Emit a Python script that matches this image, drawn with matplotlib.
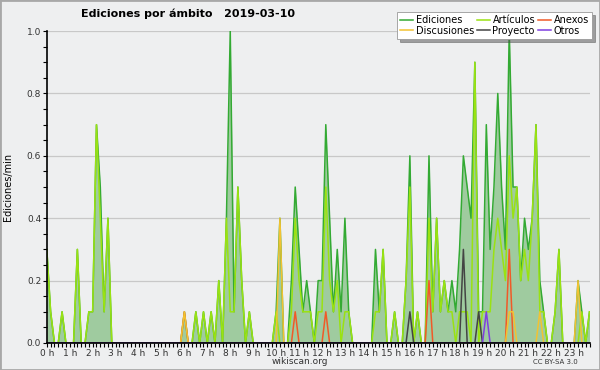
import numpy as np
import matplotlib
matplotlib.use('Agg')
import matplotlib.pyplot as plt
from matplotlib.patches import Rectangle

# edits per minute, one value every 10 minutes (0h00 .. 23h40)
ediciones = [
    0.3, 0.1, 0, 0, 0.1, 0,        # 0 h
    0, 0, 0.3, 0, 0, 0.1,          # 1 h
    0.1, 0.7, 0.5, 0.1, 0.4, 0,    # 2 h
    0, 0, 0, 0, 0, 0,              # 3 h
    0, 0, 0, 0, 0, 0,              # 4 h
    0, 0, 0, 0, 0, 0,              # 5 h
    0.1, 0, 0, 0.1, 0, 0.1,        # 6 h
    0, 0.1, 0, 0.2, 0, 0.4,        # 7 h
    1.0, 0.1, 0.5, 0.2, 0, 0.1,    # 8 h
    0, 0, 0, 0, 0, 0,              # 9 h
    0.1, 0.4, 0, 0, 0.2, 0.5,      # 10 h
    0.3, 0.1, 0.2, 0.1, 0, 0.2,    # 11 h
    0.2, 0.7, 0.4, 0.1, 0.3, 0.1,  # 12 h
    0.4, 0.1, 0, 0, 0, 0,          # 13 h
    0, 0, 0.3, 0.1, 0.3, 0,        # 14 h
    0, 0.1, 0, 0, 0.2, 0.6,        # 15 h
    0, 0.1, 0, 0, 0.6, 0.1,        # 16 h
    0.4, 0.1, 0.2, 0.1, 0.2, 0.1,  # 17 h
    0.3, 0.6, 0.5, 0.4, 0.9, 0.1,  # 18 h
    0.1, 0.7, 0.3, 0.5, 0.8, 0.5,  # 19 h
    0.3, 1.0, 0.5, 0.5, 0.2, 0.4,  # 20 h
    0.3, 0.4, 0.7, 0.2, 0.1, 0,    # 21 h
    0, 0.1, 0.3, 0, 0, 0,          # 22 h
    0, 0.2, 0.1, 0, 0.1,           # 23 h
]

articulos = [
    0.3, 0.1, 0, 0, 0.1, 0,
    0, 0, 0.3, 0, 0, 0.1,
    0.1, 0.7, 0.4, 0.1, 0.4, 0,
    0, 0, 0, 0, 0, 0,
    0, 0, 0, 0, 0, 0,
    0, 0, 0, 0, 0, 0,
    0, 0, 0, 0.1, 0, 0.1,
    0, 0.1, 0, 0.2, 0, 0.4,
    0.1, 0.1, 0.5, 0.2, 0, 0.1,
    0, 0, 0, 0, 0, 0,
    0.1, 0, 0, 0, 0.1, 0.4,
    0.2, 0.1, 0.1, 0.1, 0, 0.1,
    0.1, 0.5, 0.2, 0.1, 0.2, 0,
    0.1, 0.1, 0, 0, 0, 0,
    0, 0, 0.1, 0.1, 0.3, 0,
    0, 0.1, 0, 0, 0.2, 0.5,
    0, 0.1, 0, 0, 0.4, 0.1,
    0.4, 0.1, 0.2, 0.1, 0.1, 0,
    0.1, 0.1, 0.1, 0, 0.9, 0,
    0.1, 0.1, 0.1, 0.3, 0.4, 0.3,
    0.2, 0.6, 0.4, 0.5, 0.2, 0.3,
    0.2, 0.4, 0.7, 0.1, 0.1, 0,
    0, 0.1, 0.3, 0, 0, 0,
    0, 0, 0.1, 0, 0.1,
]

# sparse series: slot index -> value
anexos_idx = [36, 65, 73, 100, 121]
anexos_val = [0.1, 0.1, 0.1, 0.2, 0.3]
discusiones_idx = [36, 61, 121, 122, 129, 139]
discusiones_val = [0.1, 0.4, 0.1, 0.1, 0.1, 0.2]
proyecto_idx = [95, 109, 113]
proyecto_val = [0.1, 0.3, 0.1]
otros_idx = [115]
otros_val = [0.1]

hour_labels = ['%d h' % h for h in range(24)]

n = len(ediciones)
x = np.arange(n)


def expand(idx, val):
    s = np.zeros(n)
    s[idx] = val
    return s


series = [
    ('Ediciones', np.array(ediciones), '#33aa33'),
    ('Artículos', np.array(articulos), '#9ae212'),
    ('Anexos', expand(anexos_idx, anexos_val), '#f05a28'),
    ('Discusiones', expand(discusiones_idx, discusiones_val), '#f2c232'),
    ('Proyecto', expand(proyecto_idx, proyecto_val), '#444444'),
    ('Otros', expand(otros_idx, otros_val), '#7f3fe0'),
]

bg = '#eeeff0'
fig = plt.figure(figsize=(6, 3.7), dpi=100, facecolor=bg)
ax = fig.add_axes([0.078, 0.073, 0.9045, 0.843], facecolor=bg)

ax.fill_between(x, series[0][1], 0, color='#9fcb9f', lw=0, zorder=1)
handles = {}
for name, y, c in series:
    ln, = ax.plot(x, y, color=c, lw=1.1, zorder=2)
    handles[name] = ln

ax.set_xlim(0, n - 1)
ax.set_ylim(0, 1)

ax.set_yticks(np.arange(0, 1.01, 0.2))
ax.set_yticks(np.arange(0, 1.01, 0.05), minor=True)
ax.set_yticklabels(['%.1f' % v for v in np.arange(0, 1.01, 0.2)])
ax.set_xticks(np.arange(0, n, 6))
ax.set_xticks(x, minor=True)
ax.set_xticklabels(hour_labels)

ax.tick_params(which='both', direction='out', length=3, width=0.8, color='black',
               labelsize=6.5, labelcolor='#333333', pad=1)
for yv in np.arange(0.2, 1.01, 0.2):
    ax.axhline(yv, color='#c8c8c8', lw=0.9, zorder=0.5)

for s in ['top', 'right']:
    ax.spines[s].set_visible(False)
for s in ['left', 'bottom']:
    ax.spines[s].set_linewidth(1.2)
    ax.spines[s].set_zorder(3)

ax.set_ylabel('Ediciones/min', fontsize=7)
ax.yaxis.set_label_coords(-0.062, 0.5)

fig.text(0.313, 0.962, 'Ediciones por ámbito   2019-03-10', ha='center', va='center',
         fontsize=8, fontweight='bold')

order = ['Ediciones', 'Discusiones', 'Artículos', 'Proyecto', 'Anexos', 'Otros']
leg = fig.legend([handles[k] for k in order], order, ncol=3, loc='upper right',
                 bbox_to_anchor=(0.987, 0.968), fontsize=7, frameon=True, fancybox=False,
                 shadow=True, handlelength=1.3, handletextpad=0.3, columnspacing=0.3,
                 labelspacing=0.05, borderpad=0.35, borderaxespad=0)
leg.get_frame().set_edgecolor('#999999')
leg.get_frame().set_linewidth(0.6)

fig.text(0.5, 0.022, 'wikiscan.org', ha='center', va='center', fontsize=6.5, color='#333333')
fig.text(0.925, 0.022, 'CC BY-SA 3.0', ha='center', va='center', fontsize=5, color='#333333')

fig.patches.append(Rectangle((0, 0), 1, 1, transform=fig.transFigure, fill=False,
                             edgecolor='#a8a8a8', lw=2))

fig.savefig('out.png', dpi=100, facecolor=bg)
